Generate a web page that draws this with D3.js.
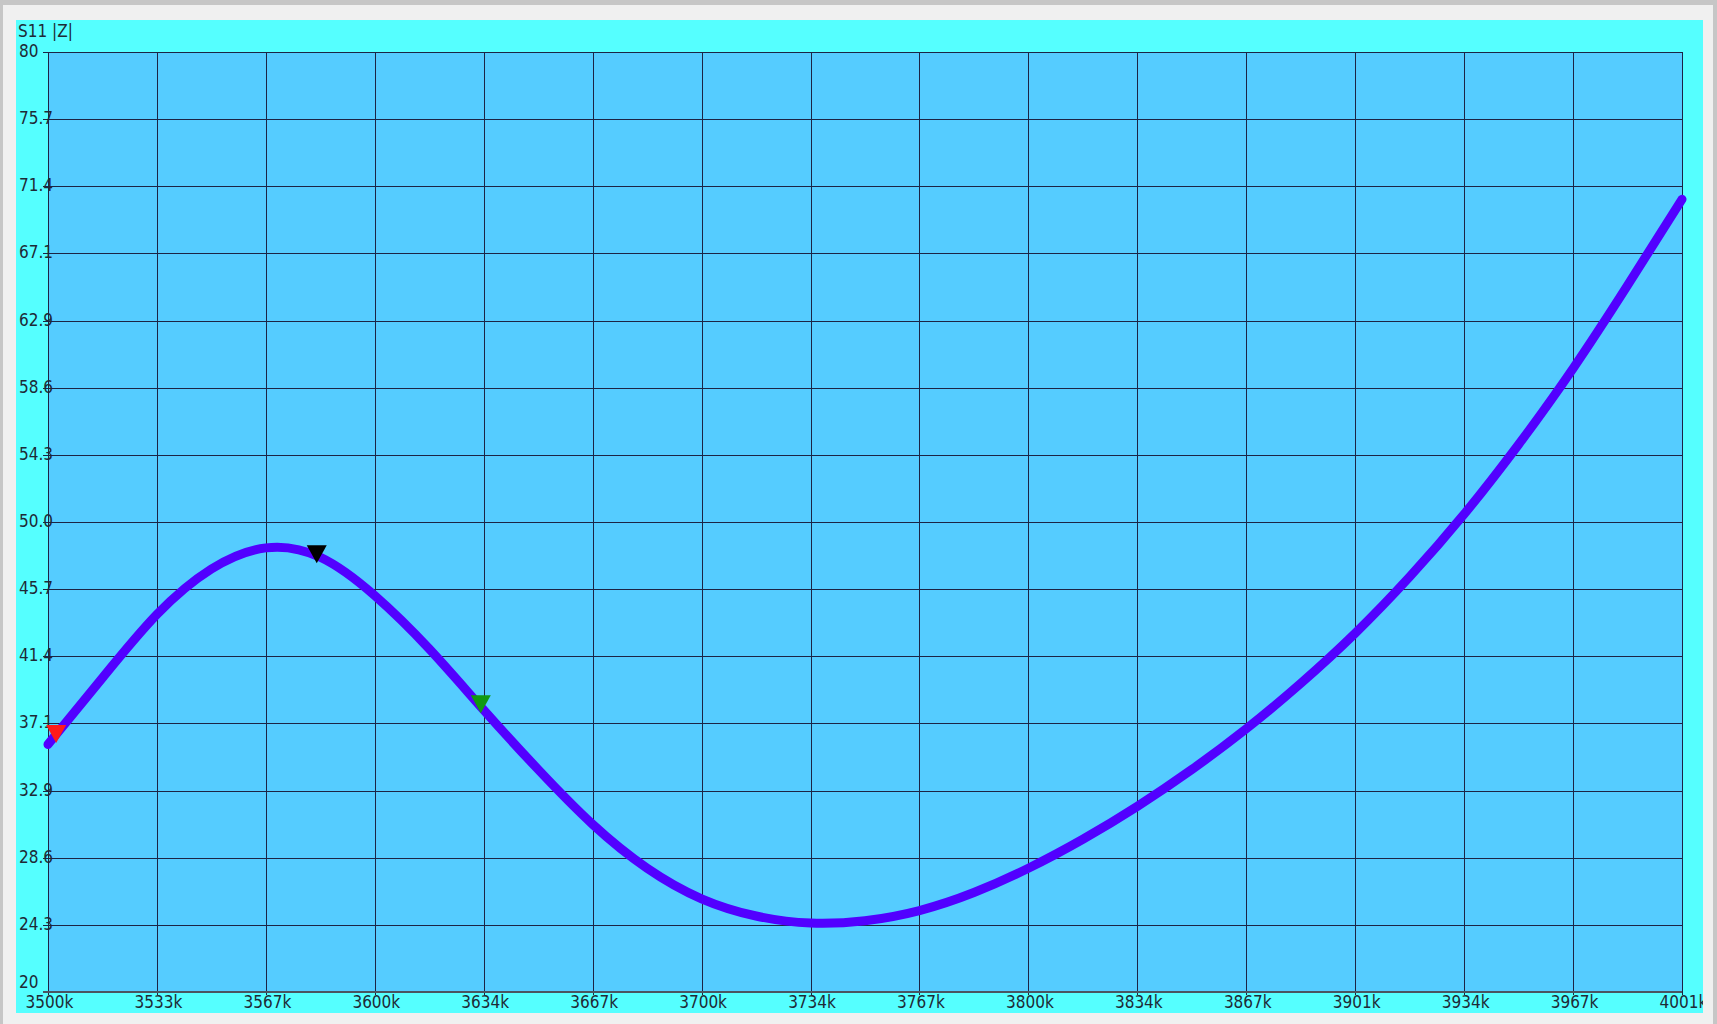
<!DOCTYPE html>
<html>
<head>
<meta charset="utf-8">
<script src="https://cdn.jsdelivr.net/npm/d3@7"></script>
<style>
  html, body { margin: 0; padding: 0; background: #c6c6c6; }
  svg { display: block; }
  text { font-family: "DejaVu Sans Condensed", "DejaVu Sans", sans-serif; }
</style>
</head>
<body>
<svg id="chart" width="1717" height="1024"></svg>
<script>
// ---- data ----
const freqKHz = [3500, 3516.7, 3533.4, 3550.1, 3566.8, 3583.5, 3600.2, 3616.9, 3633.6, 3650.3,
  3667, 3683.7, 3700.4, 3717.1, 3733.8, 3750.5, 3767.2, 3783.9, 3800.6, 3817.3, 3834,
  3850.7, 3867.4, 3884.1, 3900.8, 3917.5, 3934.2, 3950.9, 3967.6, 3984.3, 4001];
const impedance = [35.8, 40.05, 44.1, 47.0, 48.35, 47.75, 45.3, 41.9, 38.0, 34.2,
  30.7, 27.9, 25.95, 24.85, 24.4, 24.55, 25.2, 26.35, 27.9, 29.75, 31.85,
  34.2, 36.8, 39.7, 42.9, 46.5, 50.5, 54.95, 59.8, 65.1, 70.6];

const markerFreqs = [3502.5, 3582.4, 3632.7];
const markerValues = [35.9, 47.36, 37.79];
const markerColors = ["#ff1a1a", "#000000", "#119911"];

const xTickLabels = ["3500k", "3533k", "3567k", "3600k", "3634k", "3667k", "3700k", "3734k",
  "3767k", "3800k", "3834k", "3867k", "3901k", "3934k", "3967k", "4001k"];
const yTickLabels = ["20", "24.3", "28.6", "32.9", "37.1", "41.4", "45.7", "50.0",
  "54.3", "58.6", "62.9", "67.1", "71.4", "75.7", "80"];
const chartTitle = "S11 |Z|";

const xMin = 3500, xMax = 4001, yMin = 20, yMax = 80;

// ---- layout ----
const svg = d3.select("#chart");
const plot = { left: 48, right: 1682, top: 52, bottom: 992 };

const x = d3.scaleLinear().domain([xMin, xMax]).range([plot.left, plot.right]);
const y = d3.scaleLinear().domain([yMin, yMax]).range([plot.bottom, plot.top]);

const xTicks = xTickLabels.map((lab, i) => ({ v: xMin + i * (xMax - xMin) / (xTickLabels.length - 1), lab }));
const yTicks = yTickLabels.map((lab, i) => ({ v: yMin + i * (yMax - yMin) / (yTickLabels.length - 1), lab }));

// backgrounds
svg.append("rect").attr("x", 3).attr("y", 5).attr("width", 1710).attr("height", 1030).attr("fill", "#f0f0f0");
svg.append("rect").attr("x", 16).attr("y", 20).attr("width", 1687).attr("height", 993).attr("fill", "#55ffff");
svg.append("clipPath").attr("id", "panelClip").append("rect")
  .attr("x", 16).attr("y", 20).attr("width", 1687).attr("height", 993);

svg.append("rect")
  .attr("x", x(xMin)).attr("y", y(yMax))
  .attr("width", x(xMax) - x(xMin)).attr("height", y(yMin) - y(yMax))
  .attr("fill", "#55ccff");

// grid
const gridColor = "#1c2444";
const g = svg.append("g").attr("shape-rendering", "crispEdges");
g.selectAll("line.vgrid").data(xTicks).join("line")
  .attr("class", "vgrid")
  .attr("x1", d => Math.round(x(d.v)) + 0.5).attr("x2", d => Math.round(x(d.v)) + 0.5)
  .attr("y1", y(yMax)).attr("y2", y(yMin) + 3)
  .attr("stroke", gridColor).attr("stroke-width", 1);
g.selectAll("line.hgrid").data(yTicks).join("line")
  .attr("class", "hgrid")
  .attr("x1", x(xMin) - 5).attr("x2", x(xMax))
  .attr("y1", d => Math.round(y(d.v)) + 0.5).attr("y2", d => Math.round(y(d.v)) + 0.5)
  .attr("stroke", gridColor).attr("stroke-width", 1);
// bottom axis line
g.append("line")
  .attr("x1", x(xMin) - 5).attr("x2", x(xMax))
  .attr("y1", y(yMin)).attr("y2", y(yMin))
  .attr("stroke", "#4a5560").attr("stroke-width", 2);

// labels
const textColor = "#1e2a36";
svg.append("text").attr("x", 18).attr("y", 37)
  .attr("font-size", 17).attr("fill", textColor).text(chartTitle);

svg.append("g").selectAll("text").data(yTicks).join("text")
  .attr("x", 19)
  .attr("y", (d, i) => i === 0 ? y(d.v) - 4 : y(d.v) + 5)
  .attr("font-size", 17).attr("fill", textColor)
  .text(d => d.lab);

svg.append("g").attr("clip-path", "url(#panelClip)")
  .selectAll("text").data(xTicks).join("text")
  .attr("x", d => x(d.v) + 1.5).attr("y", 1008)
  .attr("text-anchor", "middle")
  .attr("font-size", 17).attr("fill", textColor)
  .text(d => d.lab);

// curve
const pts = freqKHz.map((f, i) => [f, impedance[i]]);
const line = d3.line().x(d => x(d[0])).y(d => y(d[1])).curve(d3.curveNatural);
svg.append("path").datum(pts)
  .attr("d", line)
  .attr("fill", "none")
  .attr("stroke", "#5200ff")
  .attr("stroke-width", 9)
  .attr("stroke-linecap", "round")
  .attr("stroke-linejoin", "round");

// markers (downward triangles, tip at the point)
const tri = "M0,0 L-10,-18 L10,-18 Z";
svg.append("g").selectAll("path").data(markerFreqs).join("path")
  .attr("d", tri)
  .attr("transform", (f, i) => `translate(${x(f)},${y(markerValues[i])})`)
  .attr("fill", (f, i) => markerColors[i]);
</script>
</body>
</html>
